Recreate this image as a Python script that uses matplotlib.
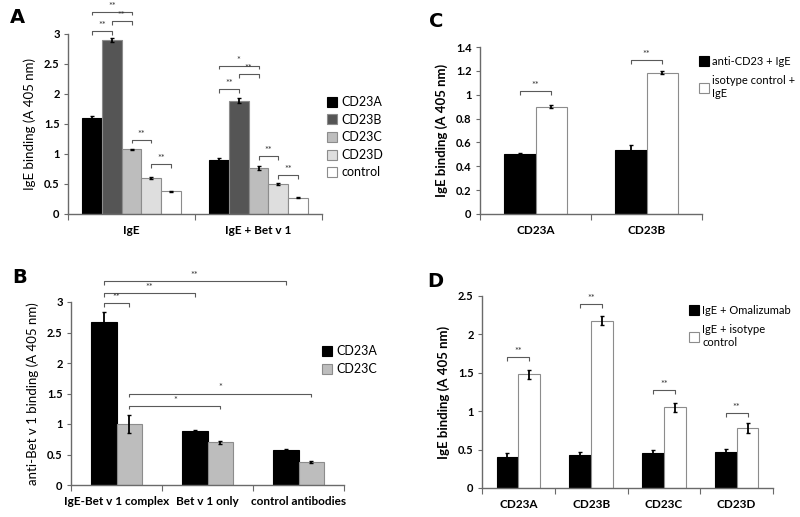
import numpy as np
import matplotlib
matplotlib.use("Agg")
import matplotlib.pyplot as plt
from matplotlib.lines import Line2D

plt.rcParams['font.family'] = ['Lato', 'DejaVu Sans']

# ---- panel A data
a_groups = ["IgE", "IgE + Bet v 1"]
a_series = ["CD23A", "CD23B", "CD23C", "CD23D", "control"]
a_vals = [[1.60, 0.90], [2.90, 1.89], [1.08, 0.77], [0.60, 0.50], [0.38, 0.27]]
a_errs = [[0.03, 0.03], [0.04, 0.04], [0.01, 0.03], [0.01, 0.01], [0.01, 0.01]]
# (group, series i, series j, y, label)
a_sig = [(0, 0, 1, 3.05, "**"), (0, 1, 2, 3.21, "**"), (0, 0, 2, 3.37, "**"),
         (0, 2, 3, 1.24, "**"), (0, 3, 4, 0.83, "**"),
         (1, 0, 1, 2.08, "**"), (1, 1, 2, 2.33, "**"), (1, 0, 2, 2.47, "*"),
         (1, 2, 3, 0.96, "**"), (1, 3, 4, 0.65, "**")]

# ---- panel B data
b_groups = ["IgE-Bet v 1 complex", "Bet v 1 only", "control antibodies"]
b_series = ["CD23A", "CD23C"]
b_vals = [[2.68, 0.88, 0.57], [1.00, 0.70, 0.38]]
b_errs = [[0.15, 0.02, 0.02], [0.14, 0.02, 0.02]]
# (group1, series1, group2, series2, y, label)
b_sig = [(0, 0, 0, 1, 2.98, "**"), (0, 0, 1, 0, 3.15, "**"), (0, 0, 2, 0, 3.34, "**"),
         (0, 1, 2, 1, 1.50, "*"), (0, 1, 1, 1, 1.30, "*")]

# ---- panel C data
c_groups = ["CD23A", "CD23B"]
c_series = ["anti-CD23 + IgE", "isotype control +\nIgE"]
c_vals = [[0.505, 0.54], [0.90, 1.185]]
c_errs = [[0.01, 0.035], [0.015, 0.012]]
c_sig = [1.03, 1.29]

# ---- panel D data
d_groups = ["CD23A", "CD23B", "CD23C", "CD23D"]
d_series = ["IgE + Omalizumab", "IgE + isotype\ncontrol"]
d_vals = [[0.41, 0.43, 0.45, 0.47], [1.48, 2.18, 1.05, 0.78]]
d_errs = [[0.04, 0.04, 0.04, 0.04], [0.06, 0.06, 0.06, 0.06]]
d_sig = [1.70, 2.40, 1.27, 0.98]

W, H = 800, 517
fig = plt.figure(figsize=(W / 100, H / 100), dpi=100)


def px_axes(x0, x1, y0, y1):
    return fig.add_axes([x0 / W, 1 - y1 / H, (x1 - x0) / W, (y1 - y0) / H])


AX_COL = "#6a6a6a"
EDGE = "#8c8c8c"


def style(ax, ncat, ylim, yticks, ylabel, groups, label_bold):
    ax.set_xlim(-0.5, ncat - 0.5)
    ax.set_ylim(*ylim)
    for s in ["top", "right"]:
        ax.spines[s].set_visible(False)
    for s in ["left", "bottom"]:
        ax.spines[s].set_color(AX_COL)
        ax.spines[s].set_linewidth(1.0)
    ax.set_yticks(yticks)
    ax.set_yticklabels([f"{v:g}" for v in yticks], fontsize=8, fontweight="bold")
    ax.tick_params(axis="y", length=3, color=AX_COL, pad=3)
    ax.set_xticks(np.arange(ncat + 1) - 0.5)
    ax.set_xticklabels([])
    ax.tick_params(axis="x", which="major", length=4, color=AX_COL)
    ax.set_xticks(np.arange(ncat), minor=True)
    ax.set_xticklabels(groups, minor=True, fontsize=8.5, fontweight="bold")
    ax.tick_params(axis="x", which="minor", length=0, pad=8)
    ax.set_ylabel(ylabel, fontsize=9.5, fontweight="bold" if label_bold else "normal",
                  labelpad=6)


def bracket(ax, x1, x2, y, label, h, fs=6.5):
    ax.plot([x1, x1, x2, x2], [y - h, y, y, y - h], color="#5a5a5a", lw=0.8,
            solid_capstyle="butt", clip_on=False)
    ax.text((x1 + x2) / 2, y + h * 0.3, label, ha="center", va="bottom",
            fontsize=fs, color="#333333", clip_on=False)


def legend(ax, labels, colors, x, y, spacing, fs=9):
    handles = [Line2D([], [], marker="s", ls="none", markersize=7,
                      markerfacecolor=c, markeredgecolor=("black" if c == "black" else EDGE),
                      markeredgewidth=0.8) for c in colors]
    ax.legend(handles, labels, loc="upper left", bbox_to_anchor=(x / W, 1 - y / H),
              bbox_transform=fig.transFigure, frameon=False, fontsize=fs,
              handlelength=0.9, handletextpad=0.3, labelspacing=spacing,
              borderpad=0, borderaxespad=0)


# ---------------- Panel A
axA = px_axes(68, 322, 34, 214)
a_cols = ["black", "#555555", "#bdbdbd", "#dedede", "white"]
wA = 0.155
for k, name in enumerate(a_series):
    xs = np.arange(len(a_groups)) + (k - 2) * wA
    axA.bar(xs, a_vals[k], wA, color=a_cols[k],
            edgecolor="black" if k == 0 else EDGE, linewidth=0.8,
            yerr=a_errs[k], error_kw=dict(ecolor="black", elinewidth=1.3, capsize=1.2, capthick=1))
style(axA, 2, (0, 3), [0, 0.5, 1, 1.5, 2, 2.5, 3], "IgE binding (A 405 nm)", a_groups, False)
for g, i, j, y, lab in a_sig:
    bracket(axA, g + (i - 2) * wA, g + (j - 2) * wA, y, lab, 0.06)
legend(axA, a_series, a_cols, 326, 96, 0.45)

# ---------------- Panel B
axB = px_axes(71, 344, 302, 485)
b_cols = ["black", "#bdbdbd"]
wB = 0.285
for k, name in enumerate(b_series):
    xs = np.arange(len(b_groups)) + (k - 0.5) * wB
    axB.bar(xs, b_vals[k], wB, color=b_cols[k],
            edgecolor="black" if k == 0 else EDGE, linewidth=0.8,
            yerr=b_errs[k], error_kw=dict(ecolor="black", elinewidth=1.3, capsize=1.2, capthick=1))
style(axB, 3, (0, 3), [0, 0.5, 1, 1.5, 2, 2.5, 3], "anti-Bet v 1 binding (A 405 nm)", b_groups, False)
for g1, s1, g2, s2, y, lab in b_sig:
    bracket(axB, g1 + (s1 - 0.5) * wB, g2 + (s2 - 0.5) * wB, y, lab, 0.06)
legend(axB, b_series, b_cols, 321, 345, 0.5)

# ---------------- Panel C
axC = px_axes(480, 702, 47, 214)
c_cols = ["black", "white"]
wC = 0.28
for k, name in enumerate(c_series):
    xs = np.arange(len(c_groups)) + (k - 0.5) * wC
    axC.bar(xs, c_vals[k], wC, color=c_cols[k],
            edgecolor="black" if k == 0 else EDGE, linewidth=0.8,
            yerr=c_errs[k], error_kw=dict(ecolor="black", elinewidth=1.3, capsize=1.2, capthick=1))
style(axC, 2, (0, 1.4), [0, 0.2, 0.4, 0.6, 0.8, 1.0, 1.2, 1.4], "IgE binding (A 405 nm)",
      c_groups, True)
for g, y in enumerate(c_sig):
    bracket(axC, g - 0.5 * wC, g + 0.5 * wC, y, "**", 0.03)
legend(axC, c_series, c_cols, 699, 56, 0.75, fs=8)

# ---------------- Panel D
axD = px_axes(482, 773, 296, 488)
d_cols = ["black", "white"]
wD = 0.3
for k, name in enumerate(d_series):
    xs = np.arange(len(d_groups)) + (k - 0.5) * wD
    axD.bar(xs, d_vals[k], wD, color=d_cols[k],
            edgecolor="black" if k == 0 else EDGE, linewidth=0.8,
            yerr=d_errs[k], error_kw=dict(ecolor="black", elinewidth=1.3, capsize=1.2, capthick=1))
style(axD, 4, (0, 2.5), [0, 0.5, 1, 1.5, 2, 2.5], "IgE binding (A 405 nm)", d_groups, True)
for g, y in enumerate(d_sig):
    bracket(axD, g - 0.5 * wD, g + 0.5 * wD, y, "**", 0.05)
legend(axD, d_series, d_cols, 689, 305, 0.75, fs=8)

# panel letters
for lab, x, y in [("A", 10, 8), ("C", 429, 12), ("B", 12, 268), ("D", 427, 272)]:
    fig.text(x / W, 1 - y / H, lab, fontsize=14, fontweight="bold", ha="left", va="top",
             family="DejaVu Sans")

fig.savefig("out.png", dpi=100)
